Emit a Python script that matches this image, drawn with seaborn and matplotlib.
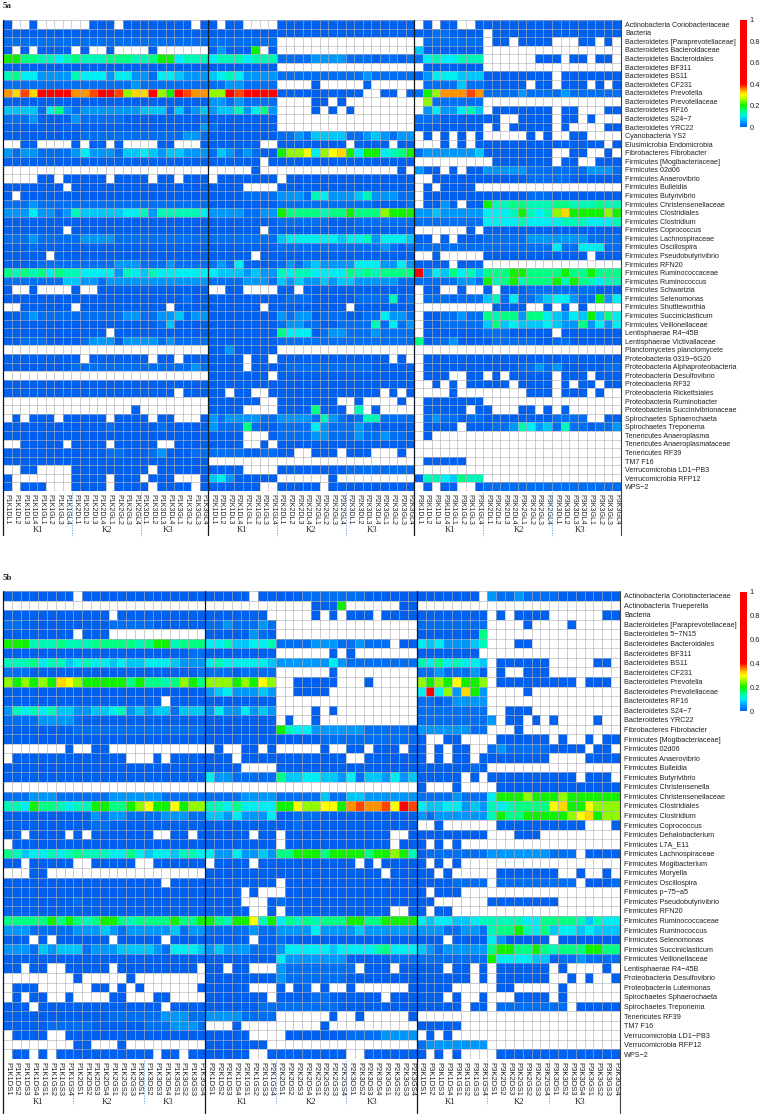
import numpy as np
import pandas as pd
import matplotlib
matplotlib.use('Agg')
import matplotlib.pyplot as plt
from matplotlib.colors import LinearSegmentedColormap
import seaborn as sns

sns.set_style('white')
plt.rcParams['font.family'] = ['Liberation Sans', 'DejaVu Sans']

# relative abundance, one letter per cell, '.' is an empty cell
levels = {'a': 0.0, 'b': 0.015, 'c': 0.045, 'd': 0.075, 'e': 0.1, 'f': 0.125, 'g': 0.15,
          'h': 0.2, 'i': 0.25, 'j': 0.3, 'k': 0.32, 'l': 0.35, 'm': 0.375, 'n': 0.42}

taxa_a = ['Actinobacteria Coriobacteriaceae', 'Bacteria', 'Bacteroidetes [Paraprevotellaceae]',
          'Bacteroidetes Bacteroidaceae', 'Bacteroidetes Bacteroidales', 'Bacteroidetes BF311',
          'Bacteroidetes BS11', 'Bacteroidetes CF231', 'Bacteroidetes Prevotella',
          'Bacteroidetes Prevotellaceae', 'Bacteroidetes RF16', 'Bacteroidetes S24−7',
          'Bacteroidetes YRC22', 'Cyanobacteria YS2', 'Elusimicrobia Endomicrobia',
          'Fibrobacteres Fibrobacter', 'Firmicutes [Mogibacteriaceae]', 'Firmicutes 02d06',
          'Firmicutes Anaerovibrio', 'Firmicutes Bulleidia', 'Firmicutes Butyrivibrio',
          'Firmicutes Christensenellaceae', 'Firmicutes Clostridiales', 'Firmicutes Clostridium',
          'Firmicutes Coprococcus', 'Firmicutes Lachnospiraceae', 'Firmicutes Oscillospira',
          'Firmicutes Pseudobutyrivibrio', 'Firmicutes RFN20', 'Firmicutes Ruminococcaceae',
          'Firmicutes Ruminococcus', 'Firmicutes Schwartzia', 'Firmicutes Selenomonas',
          'Firmicutes Shuttleworthia', 'Firmicutes Succiniclasticum', 'Firmicutes Veillonellaceae',
          'Lentisphaerae R4−45B', 'Lentisphaerae Victivallaceae', 'Planctomycetes planctomycete',
          'Proteobacteria 0319−6G20', 'Proteobacteria Alphaproteobacteria',
          'Proteobacteria Desulfovibrio', 'Proteobacteria RF32', 'Proteobacteria Rickettsiales',
          'Proteobacteria Ruminobacter', 'Proteobacteria Succinivibrionaceae',
          'Spirochaetes Sphaerochaeta', 'Spirochaetes Treponema', 'Tenericutes Anaeroplasma',
          'Tenericutes Anaeroplasmataceae', 'Tenericutes RF39', 'TM7 F16',
          'Verrucomicrobia LD1−PB3', 'Verrucomicrobia RFP12', 'WPS−2']

taxa_b = ['Actinobacteria Coriobacteriaceae', 'Actinobacteria Trueperella', 'Bacteria',
          'Bacteroidetes [Paraprevotellaceae]', 'Bacteroidetes 5−7N15', 'Bacteroidetes Bacteroidales',
          'Bacteroidetes BF311', 'Bacteroidetes BS11', 'Bacteroidetes CF231', 'Bacteroidetes Prevotella',
          'Bacteroidetes Prevotellaceae', 'Bacteroidetes RF16', 'Bacteroidetes S24−7',
          'Bacteroidetes YRC22', 'Fibrobacteres Fibrobacter', 'Firmicutes [Mogibacteriaceae]',
          'Firmicutes 02d06', 'Firmicutes Anaerovibrio', 'Firmicutes Bulleidia', 'Firmicutes Butyrivibrio',
          'Firmicutes Christensenella', 'Firmicutes Christensenellaceae', 'Firmicutes Clostridiales',
          'Firmicutes Clostridium', 'Firmicutes Coprococcus', 'Firmicutes Dehalobacterium',
          'Firmicutes L7A_E11', 'Firmicutes Lachnospiraceae', 'Firmicutes Mogibacterium',
          'Firmicutes Moryella', 'Firmicutes Oscillospira', 'Firmicutes p−75−a5',
          'Firmicutes Pseudobutyrivibrio', 'Firmicutes RFN20', 'Firmicutes Ruminococcaceae',
          'Firmicutes Ruminococcus', 'Firmicutes Selenomonas', 'Firmicutes Succiniclasticum',
          'Firmicutes Veillonellaceae', 'Lentisphaerae R4−45B', 'Proteobacteria Desulfovibrio',
          'Proteobacteria Luteimonas', 'Spirochaetes Sphaerochaeta', 'Spirochaetes Treponema',
          'Tenericutes RF39', 'TM7 F16', 'Verrucomicrobia LD1−PB3', 'Verrucomicrobia RFP12', 'WPS−2']

a_p1 = ["a..a......aaa.aaaaaaaa.a", "aaaaaaaaaaaaaaaaaaaaaaaa", "bbbbbbbbbbbbbbbbbbbbbbbb",
        "a.a.aaaa.a..a....a......", "hhggffefgfffgggffghhefff", "aaaaaaaaaaaaaaaaaaaaaaaa",
        "fgeeccccfeeeceeccbeedccc", "bbbbbbbbbbbbbbbcbbbbbbbb", "lkmknnnnllmnnmikknihnmll",
        "aaaaaaaaaaaaaaaaaaaaaaaa", "ddddbegcbcccccccdddbdbcd", "bbbcaaaacbbbbbaaaaaaaaab",
        "aaaaaaaaaaaaaaaaaaaaaaac", "aaaaaaaaabbbbbbbbbbbbccb", "..aa....a.aa.a....aa...a",
        "cbccbbbbcecccbddedcddccc", "aaaaaaaaaaaaaaaaaaaaaaaa", "........................",
        "....aa.aaaaa.aaaa.aa.aaa", "aaaaaaa.aaaaaaaaaaaaaaaa", "a.aaaaaaaaaaaaaaaaaaaaaa",
        "bbbcbbbbbbbbbbbbbbbbbbbb", "cccecc" "bc" "f" "ddddd" "eef" "c" "fffff" "e", "aaaaaaaaaaaaaaaaaaaaaaaa",
        "aaaaaaa.aaaaaaaaaaaaaaaa", "bbbcbbbbbccccbbbbbbbbbbb", "aaabaaaaaaaaaaaaaaaaaaaa",
        "aaaaa.aaaaaaaaaaaaaaaaaa", "aaaabbbbbbbbbcccbbbcbbbb", "gfgfgegffeeeecfedfeeeeee",
        "bbbbbbbddccbcccccccccccc", "a..a....a..aaaaaaaaaaaaa", "aaaaaaaaaaaaaaaaaaaaabaa",
        "..aaaaaa.aaaaaaaaaa.aaaa", "aabcbbbbbbbbbbccbbccdbcc", "aaaaaaaaaaaaaaaaaabdaaaa",
        "aaaaaaaaaaaa.aaaaaaaaaaa", "aabbbaaaabcccaccccbcbbbb", "........................",
        "aaaaaaaaa.aaaaaaa.aa.aaa", "aaaaaaaabbbbbbbbbbbbbbcb", "........................",
        "aaaaaaaaaaaaaaaaaaaaaaaa", "aaaaaaaaaaaaaaaaaaaa.aaa", "........................",
        "...............a........", ".a.aaa.aaaaa.aaaa.aa...a", "aaaaaaaaaaaabaaaaabaaaaa",
        "aaaaaaaaaaaaaaaaaaaaaaaa", "..aaaaa.aaaa.aaaaa..aaaa", "aaaaaaaaaaaabbaaabcaaabb",
        "aaaaaaaaaaaaaaaaaaaaaaaa", "..aa....aaaaaaaaa.aaaaaa", "a.......aaaa.aaa.aaa...a",
        "a.aaa...aaaa.aaaa.aaaa.a"]

a_p2 = ["a.aa...." "aaaaaaaaaaaaaaaa", "aaaaaaaa" "aaaaaaaaaaaaaaaa", "bbbbbbbb" "................",
        "acaaah.a" "................", "efffefff" "bbbbccccbbbabbab", "aaaaaaaa" "................",
        "defecccc" "bbbbbbbbbbcbbbbb", "bbccbbbb" "....a.....a.....", "iinmnnnn" "aaaaaaaaaa..aa.a",
        "ccbcbbbb" "....aa.a........", "cddfcegc" "....a.a.a.......", "aaaaaaaa" "................",
        "baaaaaaa" "................", "aaaaaaaa" "bbcbddddbbcdcbcc", "aaaaaa.." "aaaaaaaa.aaaa.aa",
        "bdcbcbaa" "hiijeijkhehhefgh", "aaaaaa.a" "aaaaaaaaaaaaaaaa", ".....a.." "..............a.",
        ".aaaaaaa" ".aaaaaaaaaaaaaaa", "aaaa...." "aaaaaaaaaaaaaaaa", "aaaabbbb" "cccbfecccdfcccbb",
        "aaaaaaaa" "bbbbbbbbbbbaaaab", "ccccbbcc" "hggggfgghgggihhh", "aaaaaaaa" "bbbbbbaaabbbbbbb",
        "aaaaaa.a" "aaaaaaaaaaaaaaaa", "bbbbbbbb" "deeeeeedeefceeed", "aaaaaaaa" "bbbbbbbbbbbbcbab",
        "aaaaa.aa" "aaaaaaaaaaaaaaaa", "bcbeaaaa" "bcbcdcccceeeccec", "edddcdcc" "feffeeeegfgfgggg",
        "bbbbcccb" "dcdccdcddcccccbb", "..aa...." "aa.aaaaaaaaaaaaa", "aaaaaaaa" "abbbaaaaabbbbfab",
        "aaaaaa.a" "aaaaaaaa.aaaaaaa", "aaaaaaaa" "cbccabbbaabbeccb", "aaaaaaaa" "bccbbaabbbbfbebc",
        "aaaaaaaa" "geeeabccbbbcbbbb", "aaaaaaaa" "bbbbbbbbbbbbbbbb", "aacaaaaa" "................",
        "aaaa.aa." "aaaaaaaaaaaaa.a.", "aaaa.aaa" "abbbbbbbbbbaaaaa", "aaaaaaa." "aaaaaaaaaaaaaaaa",
        "aaaaaaaa" "aaaaaaaaaaaaaaaa", "aa.aa..a" "aaaaaaaaaaaa.a.a", "aaaaaa.." "aaaaaaa..a....a.",
        "aaaa...." "aaaagaaa.f.a....", "cbccccbb" "ccccbfcbabffbbbb", "cbbbgbaa" "bbbbecbbbcbaaaaa",
        "aaaa...a" "bbbbccbbbcbbcbba", "aaaa..a." "aaaaaaaaaaaaaaaa", "bbbbaabb" "aa..aaa.aaa...a.",
        "........" "................", "aaaa...." "aaaaaaaabbbbbbbb", "decaaaaa" "......a.........",
        "aaaaaa.." "aaaaa.aaaaaaaaaa"]

a_p3 = [".a.aa..a" "aaaaaaaaaaaaaaaa", "aabbaaaa" ".aaaaaaaaaaaaaaa", ".bbbbbbb" ".aa.aaaa...aa.a.",
        "daaaaaaa" "................", "befeefff" "......aaa.aa.aa.", ".aaaaaaa" "................",
        "aceeeddd" "aaaaaaaa.aaaaaaa", ".bbbbdbb" "aaaaa.aa.aaa.a.a", "bhilllml" "bbbbcbbbbcbbbbbb",
        ".ibbbbbb" "................", ".ceccefd" ".aaaaaaa.aa...aa", "bbbaaaaa" "aa..aaaa.aa.a...",
        "aaaaaaaa" ".a.aaaaa.a....aa", ".a.a.a.a" ".....a.a..aa....", "...a.a.a" "aaaaaaaaaaaaaa.a",
        "bccccccd" "aaaaaaaa..aa..a.", "........" ".aaaaaaa.aa..aaa", "caa.a.aa" "cccccbbbbbbbcccb",
        "..aaaaaa" "aaaaabbbbbaaaaaa", ".a.aaaa." "................", ".aaaaaaa" "aaaaabbbaaaaaaaa",
        ".aaca.aa" "hffggfffggfffgff", "ccdccccc" "eeefhfefikhhhhih", "bbbbbbbb" "eeeefeeeefffeeef",
        "......a." "aaaaaaaaaaaaaaaa", "aa.a.aaa" "bbbbbcccccccbbbb", "bbbbbbbb" "bbbbbbbbebbeeebb",
        "..a....." "aaaaaaaaaaaa.aaa", "aaaa.aaa" "................", "ncedgefd" "ggghhgggghgghggg",
        "bbbbbccb" "hfghfggghfhgfeff", ".aa..a.." "a.aaabbbbbbbbaaa", ".bbbabbb" "dfbebbcdeecbbhce",
        "........" ".aaaa..a.a.a....", ".aabbcbb" "gfggcggedcedhdge", ".aabbbbb" "dgdedddedccgcece",
        ".aaaaaaa" "bbbaaaaa.aaaaaaa", "gabbcaaa" "abbbbbaabbaaaaaa", "........" "................",
        ".aaaaaaa" "aaaaaaaaaaaaaaaa", ".aaaaaaa" "aaaabbcbcaaaaabb", ".aaa..aa" ".a.aaaaa.aaa.aaa",
        "..a.a.aa" "aaa.aaaa.a.aa.aa", "....a..." ".....aaa.aaa.a..", ".aaaaaaa" "................",
        ".aaaaa.a" "a...aa.a.a......", ".bcbbabb" "aaaaaaaabbbb..aa", ".aaaa.aa" "abbcfecdbfbbabbc",
        ".a......" "................", "........" "................", "........" "................",
        ".aaaaa.." "................", "........" "................", "affedgff" "................",
        ".a.aa..a" "bbbbbbbbbbbbbbbb"]

b_p1 = ["aaaaaaaa.aaaaaaaaaaaaaa", ".......................", "aaaaaaaaaaaa.aaaaaaaaaa",
        "bbaaaaaaaaaabbbbbaaaaaa", "aaaaaaaa.aaa...........", "hhhfffgfffgggggfghhfggg",
        "aaaaaaaaaaaaaaaaaaaaabb", "fffgeffdefeededdeeedccc", "bbbaaaaaaaaaaaaaaaaaaab",
        "ihihihkjihhhhhghggfgihg", "aaaaaaaaaaaaaaaaaaaaaaa", "aaaaaaaaaaaaaaaaaa.aaaa",
        "cfefefddccddefcdcddbddd", "bbbbccccbaaaaaaaaaaaaaa", "aaaaaaaabbbbbbbbbbbbbbb",
        "aaaaaaaaaaaaaaaaaaaaaaa", ".......a..aa...........", ".aaaaaaaaaaaaa...a.aaaa",
        "aaaaaaaaaaaaaaaaaaaaaaa", "aaaaaaaaaaaaaaaaaaaaaaa", ".......................",
        "bbbcccbbbbbbccccccbbbbb", "ffehggfeffhhgghijhhjhii", "aaaaaaaaaacbccbbbbcccbb",
        "aaaaaaaaaabbaaaaaaaaaaa", "aa.aaaa.a.aaaaaaa..aa.a", ".aaaaaaaaaaaaaaaaaaaaaa",
        "gfdeefefgfffeegedeedffe", "aa.aaaaa..aaaaa..aaaaaa", "...aa..................",
        "aaaaaaaaaaaaaaaaaa.aaaa", "aaaaaaaaaaaaaaaaaaaaaaa", "aaaaaaaabaaaaaaaaaaaaaa",
        "aaaaaaaaaaaaaaaaaaaaaaa", "ggggghghgfghhgfgggghggh", "cccbbbbbcccdcbcccccdbcc",
        "aaa.a.aaaaaa.aaaaa.aaaa", "cccbdcdddbcccddddcbeeed", "aaaaaaaaaaaaaaaaaaaaaaa",
        "aa.aa..aaaaa.aaaaaaaaa.", "........a.....a........", ".aaa......aa.a.a......a",
        ".a.aa..a....aa...aa....", "aaa.aaaaaaaaaaaaaa.aaaa", "aaaaaaaaaaaabbbbbbcccbb",
        "aaaaabbbbbaaaaaabbbcccb", ".aaaa..aaaaaaaaaaaaaaaa", "........aa...a.........",
        ".aa.a.aaaaaaaaaaa.aa.aa"]

b_p2 = ["aaaaa.aa" "aaabbbbbbbaaaaaa", "........" "....aaah......aa", "aaaaaaa." "....a.a.aaa.aaaa",
        "bbcbbbcb" "................", "aaaaacba" "................", "eefddeef" "bbbbcccbbcbbb.aa",
        "aaaaaaaa" "......a.a.......", "efeeeeed" "ccccccecbbbbbbbb", "bbbabbbb" "......a.........",
        "iiihihji" "..aaaaa...a.....", "cdecccdc" "..aaaa..........", "aaaaaaaa" "................",
        "ceccecdc" "....a.a.........", "aaaaaaaa" ".a..a...........", "aaaaaaaa" "hfeeccccccbbbbba",
        "aaaaaaaa" "aaaaabbbbbbbbbbb", ".a..aa.a" ".....a..aa.aaa.a", "aaa.aaaa" "aaaaaaaa..aaaaaa",
        "aaaa...." "aaaaaaaaaaaaaaaa", "eccbbbbb" "gddeeddcebddcecd", "........" "................",
        "bbbbcccc" "bbbbbdbbddcccccc", "ffegeeee" "hhjiijjhlmllmjnm", "ddceccce" "aabbbaaaaaaaaaaa",
        "aaaaaaaa" "aabaaaaaaaaaaaaa", "aaaaa.aa" ".aaaaaaaaaaaa..a", "aaaaaaaa" ".aaaaaaaaaaaa.aa",
        "ecceccdc" "gghhhghhhhghhihf", ".aaaa.aa" "aaaaaaaaa.a.aaaa", "aaaaaaaa" "aaaaaaaaaaaa.aaa",
        "aaaaaaaa" ".aaaaaaaaaaaaaaa", "aaaa.a.." ".aaaaaaaaaaaaaaa", "aaaa...a" "baaaaaaaaaaaaaaa",
        "aaaaa..a" ".aaaaaaaaaaaa..a", "hgfhhjfh" "egfgfggghhgghhhh", "bbbbbcbb" "cccceccccdcccccc",
        "aaaaa.aa" "baaaaaaaaaaaaaaa", "cdcccbbb" "ceeeeedeeeefgeee", "aaaaaaaa" "ecccccccaaaaabbb",
        "aa.aa..." "cbbbbbbbb.aaa.aa", "aaaaaaaa" "cbbbbbbbaaaaaaaa", "aaaaa..." "a.ab.a..a......a",
        "aaaaaaa." "aaaabbaaaaaa.aaa", "aaaaaabb" "bbbbbbbaaaaaaaaa", "ccccbbbb" "......a..a.....a",
        "...a...." ".....a..........", "aaaaa..." ".aaaaaaabbbbcccc", "aaaaaaa." "................",
        "aaaaa..a" "aaaaaaaa..aaaaaa"]

b_p3 = ["aaaaaaa." "cbbcbbbbaaaaaaa", "........" "...............", "aaaaaaaa" ".a.aaaa......aa",
        "bbbbbbbb" "....a....a.....", "aaaaaaag" "...............", "edecccdf" "...aa..........",
        "aaaaaaa." "...............", "fegefeed" ".aaaaaa.....aa.", "bbcbbbca" ".a..aaa........",
        "ihihjhhi" ".aaaaaaaaa.aaa.", "eneickhc" "....a..........", "bbabcccc" "...............",
        "bbbbbbbb" "..aaa..........", "bbbbbbbb" "c.aa.a.a....a..", "ccccccbb" "...a...........",
        "a..aa..." ".aaaaaa.a..a.aa", "a.a.aa.." "bcbbbbbaaaa.aa.", "a.a.aa.a" "aaaaaaa....aaaa",
        "aaaaaaba" "...............", "aaaaa.a." "aaaaaaaaaa.aaa.", "a...a..." ".aaaaaaaaaaaaaa",
        "bbbbcbbb" "ehhhihhhihhhhhh", "eddeecdc" "fefggggjkhhjiii", "cbcccccc" "fhgghhhhhijkhii",
        "..a....." ".aaaaaaaaaa...a", "aaaaaaaa" "...aaa.........", "a.a.a..." "...............",
        "abbbbbbb" "cccccccbbb.aaaa", "a.a.a..." "...............", "aa.a...." ".aaaaaaa..a..a.",
        "aaaabbbb" ".bbbbbbbbb.aaab", "a.aaa..." "...............", "aa......" "aaaaaaaa.......",
        "a.aa...." "...............", "edeeddef" "ffffeeggggfdfee", "cccbbccb" "fgghfegdeededdd",
        "aaa.aaaa" "ecaaaaa.aaaaaaa", "dcbccccc" "ghhgghgfggghhgg", "bbbbbbbb" "heeeeddabbcbbbb",
        "aaa.aa.a" ".aaaaaa.a....a.", "aaaaaa.a" ".aaaaaa..a.a..a", "aaaa...." ".aa.....a......",
        "aaa.a..a" "...aaaa.a......", "aaaaa.aa" ".bbbbbbbb.aaaaa", "........" "...............",
        "aaaaa..." "...............", ".a.a...." "...............", "bccccccc" "...............",
        "a.a.a..." ".aaaaaaaaaaaaaa"]

kgroups = ['K1', 'K2', 'K3']
dl = ['D1', 'D2', 'D3', 'D4', 'G1', 'G2', 'G3', 'G4']
p1_k2_b = ['D1', 'D2', 'D3', 'D4', 'G1', 'G2', 'G3']
p3_k2_b = ['D1', 'D2', 'D3', 'G1', 'G2', 'G3', 'G4']
cbar_ticks = [0, 0.2, 0.4, 0.6, 0.8, 1]


def sample_names(plate, letter, k2=dl):
    names = []
    for k, codes in zip(kgroups, [dl, k2, dl]):
        names += [f'P{plate}{k}{c[0]}{letter}{c[1]}' for c in codes]
    return names


def to_frame(rows, taxa, names):
    grid = [[np.nan if ch == '.' else levels[ch] for ch in r.ljust(len(names), '.')[:len(names)]] for r in rows]
    return pd.DataFrame(grid, index=taxa, columns=names)


cmap = LinearSegmentedColormap.from_list('abund', [(0, '#0060f0'), (0.05, '#00a0ff'), (0.1, '#00f0f0'),
                                                   (0.15, '#00ff80'), (0.2, '#10f000'), (0.27, '#c0ff00'),
                                                   (0.3, '#ffff00'), (0.35, '#ff9000'), (0.4, '#ff0000'),
                                                   (1, '#ff0000')])

W, H = 762, 1116
fig = plt.figure(figsize=(W / 100, H / 100), dpi=100)


def px_axes(x0, y0, x1, y1):
    return fig.add_axes([x0 / W, 1 - y1 / H, (x1 - x0) / W, (y1 - y0) / H])


def draw_plate(df, x0, x1, y0, y1, size, row_size=None, cax=None):
    ax = px_axes(x0, y0, x1, y1)
    sns.heatmap(df, ax=ax, cmap=cmap, vmin=0, vmax=1, cbar=cax is not None, cbar_ax=cax,
                cbar_kws={'ticks': cbar_ticks, 'format': '%g'},
                xticklabels=list(df.columns), yticklabels=list(df.index) if row_size else False)
    ax.hlines(range(df.shape[0] + 1), 0, df.shape[1], color='#b0b0b8', lw=0.45)
    ax.vlines(range(df.shape[1] + 1), 0, df.shape[0], color='#b0b0b8', lw=0.45)
    ax.tick_params(axis='x', length=0, pad=2, labelsize=size, labelcolor='#222222', rotation=270)
    if row_size:
        ax.yaxis.tick_right()
        ax.tick_params(axis='y', length=0, pad=3, labelsize=row_size, labelcolor='#222222', rotation=0)
    if cax is not None:
        cax.tick_params(length=0, pad=2, labelsize=5.4, labelcolor='#222222')
    return ax


# panel 5a
cax_a = px_axes(740, 20, 747, 127)
draw_plate(to_frame(a_p1, taxa_a, sample_names(1, 'L')), 3, 208.3, 20, 491, 5.0)
draw_plate(to_frame(a_p2, taxa_a, sample_names(2, 'L')), 208.3, 414.3, 20, 491, 5.0)
draw_plate(to_frame(a_p3, taxa_a, sample_names(3, 'L')), 414.3, 621, 20, 491, 5.0, row_size=5.1, cax=cax_a)

# panel 5b
cax_b = px_axes(740, 592, 747, 711)
draw_plate(to_frame(b_p1, taxa_b, sample_names(1, 'S', p1_k2_b)), 3, 205.3, 591, 1059, 5.5)
draw_plate(to_frame(b_p2, taxa_b, sample_names(2, 'S')), 205.3, 416.7, 591, 1059, 5.5)
draw_plate(to_frame(b_p3, taxa_b, sample_names(3, 'S', p3_k2_b)), 416.7, 620, 591, 1059, 5.5, row_size=5.2, cax=cax_b)

# separators and group names, in pixels of the figure
top = fig.add_axes([0, 0, 1, 1], facecolor='none')
top.set_xlim(0, W)
top.set_ylim(H, 0)
top.axis('off')

for x in [3, 208.3, 414.3]:
    top.plot([x, x], [20, 535], color='#101820', lw=0.9)
top.plot([621, 621], [20, 535], color='#404040', lw=0.8)
for x in [3, 205.3, 416.7]:
    top.plot([x, x], [591, 1113], color='#101820', lw=0.9)
top.plot([620, 620], [591, 1113], color='#404040', lw=0.8)

for x in [71.6, 140.7, 277.3, 346, 483.3, 551.7]:
    top.plot([x, x], [492, 536], color='#6a9bd0', lw=0.6, ls=(0, (1.5, 1.5)))
for x in [73.4, 143.7, 275.8, 346, 487.4, 549.3]:
    top.plot([x, x], [1060, 1105], color='#6a9bd0', lw=0.6, ls=(0, (1.5, 1.5)))

k_x = [38, 107, 168, 242, 311, 372, 450, 519, 580]
for y in [530, 1102]:
    for x, k in zip(k_x, kgroups * 3):
        top.text(x, y, k, family='Liberation Serif', fontsize=6.2, ha='center', va='center', color='#222222')

top.text(3, 5.5, '5a', family='Liberation Serif', fontsize=6.5, fontweight='bold', va='center')
top.text(3, 578, '5b', family='Liberation Serif', fontsize=6.5, fontweight='bold', va='center')

fig.savefig('out.png', dpi=100, facecolor='white')
